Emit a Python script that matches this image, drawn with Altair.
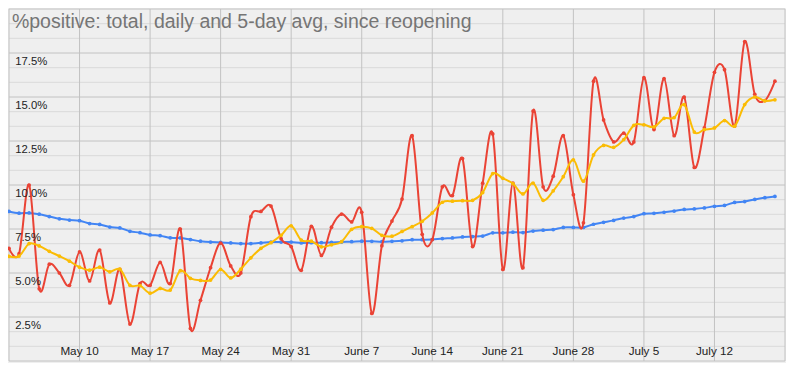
import altair as alt
import pandas as pd

TITLE = "%positive: total, daily and 5-day avg, since reopening"
START = "2020-05-03"
N_DAYS = 77

TOTAL = [8.50, 8.40, 8.41, 8.34, 8.21, 8.08, 8.01, 7.97, 7.81, 7.76,
         7.61, 7.56, 7.37, 7.29, 7.16, 7.12, 7.00, 6.99, 6.90, 6.81,
         6.76, 6.74, 6.71, 6.67, 6.67, 6.71, 6.76, 6.76, 6.76, 6.71,
         6.72, 6.72, 6.74, 6.76, 6.78, 6.81, 6.80, 6.78, 6.80, 6.83,
         6.89, 6.89, 6.90, 6.96, 6.99, 7.05, 7.07, 7.10, 7.28, 7.28,
         7.32, 7.30, 7.38, 7.43, 7.47, 7.59, 7.59, 7.59, 7.77, 7.88,
         7.99, 8.12, 8.21, 8.37, 8.39, 8.45, 8.52, 8.61, 8.64, 8.70,
         8.79, 8.84, 9.01, 9.06, 9.18, 9.28, 9.35]

DAILY = [6.4, 6.1, 10.0, 4.1, 5.5, 5.0, 4.3, 6.2, 4.55, 6.3,
         3.3, 5.2, 2.1, 4.4, 4.3, 5.6, 4.4, 7.5, 1.85, 3.45,
         5.3, 6.7, 5.4, 5.0, 8.2, 8.5, 8.8, 6.95, 6.5, 5.15,
         7.65, 6.0, 7.6, 8.35, 7.9, 8.45, 2.7, 6.55, 7.95, 9.2,
         12.8, 7.2, 6.9, 9.9, 9.4, 11.5, 6.5, 10.1, 12.9, 5.2,
         10.1, 5.3, 14.2, 9.9, 10.5, 12.8, 9.45, 7.85, 15.9, 13.7,
         12.45, 12.95, 12.45, 16.1, 13.15, 16.05, 12.8, 15.0, 11.0, 13.25,
         16.4, 16.55, 13.35, 18.15, 15.15, 14.8, 15.9]

AVG5 = [5.95, 5.96, 6.67, 6.54, 6.23, 5.96, 5.67, 5.33, 5.16, 5.33,
        5.07, 5.22, 4.30, 4.28, 3.85, 4.12, 4.03, 5.13, 4.70, 4.58,
        4.60, 5.20, 4.72, 5.22, 5.86, 6.40, 6.72, 7.14, 7.68, 6.87,
        6.81, 6.49, 6.60, 6.78, 7.48, 7.63, 7.54, 7.14, 7.09, 7.36,
        7.63, 7.94, 8.41, 9.02, 9.08, 9.11, 9.13, 9.57, 10.65, 10.38,
        10.08, 9.49, 10.11, 9.13, 9.67, 10.47, 11.43, 10.22, 11.71, 12.25,
        12.14, 12.58, 13.39, 13.42, 13.30, 13.79, 13.83, 14.57, 13.01, 13.15,
        13.24, 13.66, 13.34, 14.57, 15.00, 14.78, 14.84]

SERIES = ["total", "daily", "5-day avg"]
COLORS = ["#4285f4", "#ea4335", "#fbbc04"]

Y_MAJOR = [0, 2.5, 5, 7.5, 10, 12.5, 15, 17.5, 20]
Y_MINOR = [v + d for v in Y_MAJOR[:-1] for d in (2.5 / 3, 5 / 3)]
Y_TICKS = [2.5, 5, 7.5, 10, 12.5, 15, 17.5]
Y_TICK_LABELS = ["2.5%", "5.0%", "7.5%", "10.0%", "12.5%", "15.0%", "17.5%"]

X_GRID = ["2020-05-03", "2020-05-10", "2020-05-17", "2020-05-24", "2020-05-31",
          "2020-06-07", "2020-06-14", "2020-06-21", "2020-06-28", "2020-07-05",
          "2020-07-12", "2020-07-19"]
X_TICKS = X_GRID[1:-1]
X_TICK_LABELS = ["May 10", "May 17", "May 24", "May 31", "June 7", "June 14",
                 "June 21", "June 28", "July 5", "July 12"]

FONT = "Liberation Sans, Arial, sans-serif"
BG = "#efefef"
W, H = 776, 352

dates = pd.date_range(START, periods=N_DAYS).strftime("%Y-%m-%d").tolist()

xscale = alt.Scale(type="utc", domain=[alt.DateTime(year=2020, month=5, date=3, utc=True),
                                       alt.DateTime(year=2020, month=7, date=19, utc=True)])
yscale = alt.Scale(domain=[0, 20], nice=False, zero=False)
X = alt.X("date:T", scale=xscale, axis=None)
Y = alt.Y("value:Q", scale=yscale, axis=None)

minor = alt.Chart(pd.DataFrame({"value": Y_MINOR})).mark_rule(
    color="#dadada", strokeWidth=1).encode(y=Y)
major = alt.Chart(pd.DataFrame({"value": Y_MAJOR})).mark_rule(
    color="#c2c2c2", strokeWidth=1).encode(y=Y)
vgrid = alt.Chart(pd.DataFrame({"date": X_GRID})).mark_rule(
    color="#c2c2c2", strokeWidth=1).encode(x=X)

layers = [minor, major, vgrid]
for name, vals, col in zip(SERIES, [TOTAL, DAILY, AVG5], COLORS):
    df = pd.DataFrame({"date": dates, "value": vals, "series": name})
    layers.append(
        alt.Chart(df).mark_line(
            color=col, strokeWidth=2, interpolate="cardinal",
            point=alt.OverlayMarkDef(color=col, size=14, filled=True, opacity=1),
        ).encode(x=X, y=Y)
    )

ylab = alt.Chart(pd.DataFrame({"value": Y_TICKS, "label": Y_TICK_LABELS})).mark_text(
    align="left", baseline="alphabetic", dy=12.4, font=FONT, fontSize=11.3, color="#222222"
).encode(x=alt.value(6.2), y=Y, text="label:N")

xlab = alt.Chart(pd.DataFrame({"date": X_TICKS, "label": X_TICK_LABELS})).mark_text(
    align="center", baseline="alphabetic", font=FONT, fontSize=11.7, color="#222222"
).encode(x=X, y=alt.value(345.7), text="label:N")

title = alt.Chart(pd.DataFrame({"t": [TITLE]})).mark_text(
    align="left", baseline="alphabetic", font=FONT, fontSize=19.5, color="#757575"
).encode(x=alt.value(2.9), y=alt.value(18.6), text="t:N")

layers += [ylab, xlab, title]

chart = alt.layer(*layers).properties(
    width=W, height=H,
    autosize=alt.AutoSizeParams(type="none"),
    padding={"left": 1, "top": 1, "right": 1, "bottom": 2},
    background=BG,
).configure_view(stroke=None)

chart.save("out.html", embed_options={"renderer": "svg", "actions": False})
